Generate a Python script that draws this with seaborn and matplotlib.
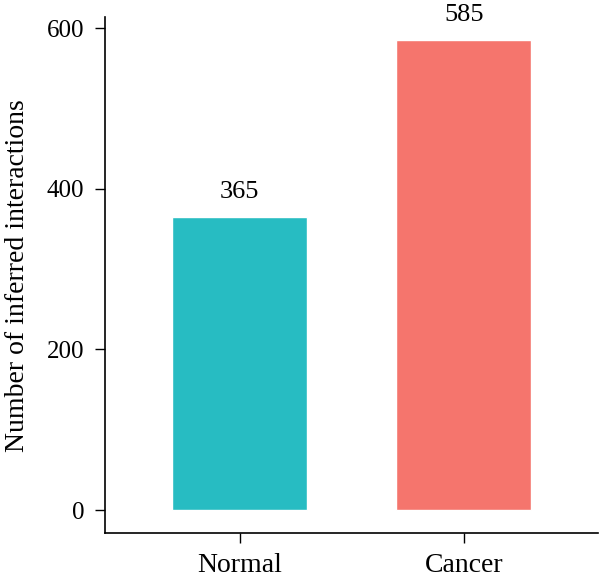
import matplotlib
matplotlib.use("Agg")
import matplotlib.pyplot as plt
import seaborn as sns
import pandas as pd

categories = ["Normal", "Cancer"]
values = [365, 585]
colors = ["#27BCC2", "#F5756D"]

df = pd.DataFrame({"group": categories, "n": values})

sns.set_style("white")
plt.rcParams['font.family'] = ['Liberation Serif', 'DejaVu Serif']
plt.rcParams['text.color'] = 'black'
plt.rcParams['axes.labelcolor'] = 'black'

fig = plt.figure(figsize=(6, 5.84), dpi=100)
ax = fig.add_axes([0.175, 0.0865, 0.822, 0.8846])
sns.barplot(data=df, x="group", y="n", hue="group", palette=colors,
            order=categories, hue_order=categories, width=0.6,
            legend=False, ax=ax, saturation=1)

for i, v in enumerate(values):
    ax.annotate(str(v), (i, v), xytext=(0, 10), textcoords="offset points",
                ha="center", va="bottom", fontsize=19, color="black")

ax.set_ylim(-29.25, 614.25)
ax.set_xlim(-0.6, 1.6)
ax.set_yticks([0, 200, 400, 600])
ax.set_xlabel("")
ax.set_ylabel("Number of inferred interactions", fontsize=20, labelpad=12,
              color="black")
sns.despine(ax=ax)
for s in ["left", "bottom"]:
    ax.spines[s].set_color("black")
    ax.spines[s].set_linewidth(1.2)
ax.tick_params(axis="both", which="both", length=7, width=1.0, color="black",
               labelcolor="black", direction="out",
               left=True, bottom=True)
ax.tick_params(axis="y", labelsize=18, pad=8)
ax.tick_params(axis="x", labelsize=20, pad=7)

fig.savefig("out.png", dpi=100)
